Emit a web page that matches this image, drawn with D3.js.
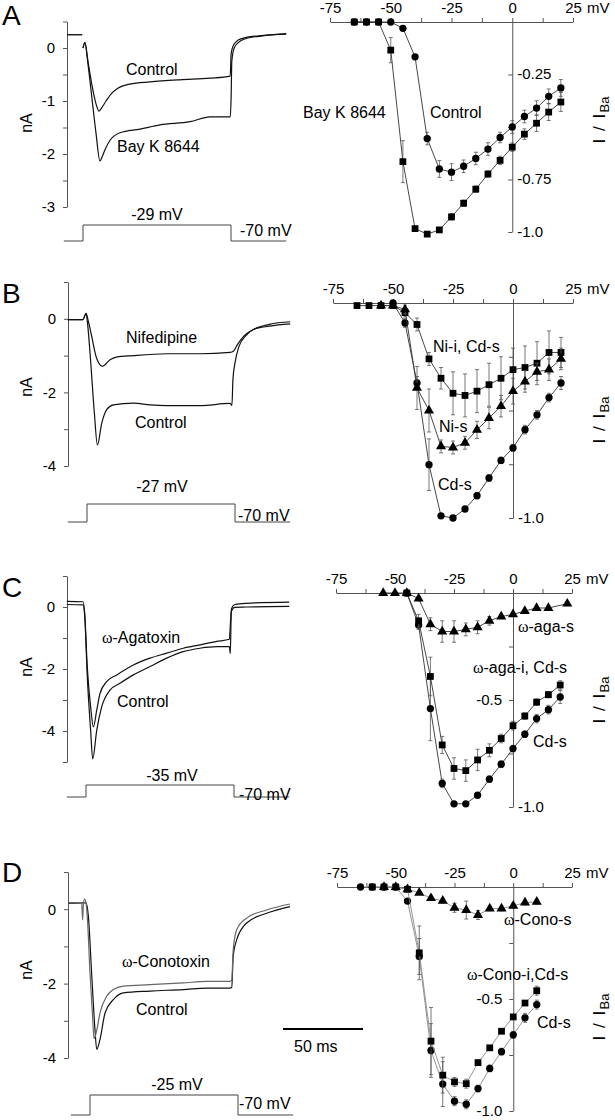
<!DOCTYPE html>
<html><head><meta charset="utf-8">
<script src="https://cdn.jsdelivr.net/npm/d3@7"></script>
<style>body{margin:0;background:#fff} svg{display:block}</style>
</head><body><svg id="c" width="615" height="1120"></svg>
<script>
// ================= DATA =================
const panelLetters = ["A", "B", "C", "D"];
const stepVoltages = [-29, -27, -35, -25];
const holdingVoltage = -70;
const stepDuration = 92.5; // ms
const protocolTimes = [-12, 0, 92.5, 127];
const scaleBarMs = 50;

// current traces [time ms, nA]; null = blanked
const traceA_control = [[-10,0.25],[-0.5,0.25],[-0.4,null],[0,0],[1.2,0.1],[3.1,-0.25],[5.6,-0.7],[8.1,-1.05],[10,-1.19],[11.9,-1.12],[14.4,-1.0],[17.5,-0.87],[21.3,-0.77],[29.4,-0.68],[41.9,-0.64],[60.6,-0.6],[79.4,-0.57],[92,-0.53],[92.6,-0.1],[94,0.05],[97,0.15],[102,0.2],[110,0.23],[127,0.26]];
const traceA_bayk = [[-10,0.25],[-0.5,0.25],[-0.4,null],[0,0],[1.2,0.1],[3.1,-0.3],[5.6,-0.95],[8.1,-1.6],[10.6,-2.13],[12,-2.05],[13.75,-1.92],[16.9,-1.74],[23.1,-1.6],[35.6,-1.53],[48.1,-1.45],[66.9,-1.39],[79.4,-1.3],[92,-1.3],[92.6,-0.9],[93,-0.25],[94.5,0.0],[97,0.1],[102,0.18],[110,0.22],[127,0.27]];
const traceB_nifedipine = [[-12,-0.02],[-2.5,-0.02],[-0.6,0.15],[1,-0.1],[2.9,-0.47],[6,-1.07],[9.8,-1.29],[14.4,-1.11],[18.5,-1.04],[28.9,-1.0],[49.8,-0.95],[70.6,-0.95],[89.4,-0.91],[91.5,-0.88],[94,-0.7],[98,-0.47],[104,-0.29],[114,-0.15],[127,-0.08]];
const traceB_control = [[-12,-0.02],[-2.5,-0.02],[-0.6,0.15],[0.5,-0.2],[1.9,-0.93],[4.6,-2.56],[6.5,-3.43],[9.2,-2.84],[12.3,-2.47],[16.5,-2.34],[28.9,-2.29],[39.4,-2.34],[49.8,-2.36],[70.6,-2.36],[89.4,-2.3],[90.6,-2.35],[91.2,-1.65],[92.5,-1.2],[95,-0.75],[99,-0.47],[104,-0.29],[114,-0.2],[127,-0.14]];
const traceC_agatoxin = [[-12,0.18],[-1.8,0.17],[-0.8,-0.2],[0.8,-1.94],[2.9,-3.22],[4.6,-3.87],[6.7,-3.33],[8.75,-2.79],[12.9,-2.41],[19.2,-2.19],[29.6,-1.87],[40,-1.65],[50.4,-1.49],[60.8,-1.33],[71.25,-1.22],[81.7,-1.11],[89.6,-1.04],[90.3,-0.5],[91,-0.05],[93,0.08],[100,0.12],[127,0.16]];
const traceC_control = [[-12,0.08],[-1.8,0.07],[-0.8,-0.3],[0.8,-2.25],[2.9,-3.98],[4.2,-4.9],[6.7,-3.98],[9.8,-3.22],[15,-2.68],[21.25,-2.46],[29.6,-2.19],[40,-1.92],[50.4,-1.65],[60.8,-1.44],[71.25,-1.33],[81.7,-1.28],[89.6,-1.28],[90.2,-1.5],[90.8,-0.15],[93,-0.01],[100,0.0],[127,0.02]];
const traceD_conotoxin = [[-13.5,0.18],[-5.2,0.18],[-4.6,-0.29],[-4.2,0.1],[-3.5,0.27],[-2.5,0.18],[-1.7,-0.2],[0,-1.71],[1.7,-2.95],[2.5,-3.48],[4,-3.3],[6.25,-2.79],[10.4,-2.34],[14.6,-2.16],[20.8,-2.07],[37.5,-2.03],[58.3,-1.98],[72.9,-1.94],[87.5,-1.94],[88.6,-1.9],[89.5,-1.09],[91.7,-0.55],[97.9,-0.24],[110.4,-0.02],[125,0.14]];
const traceD_control = [[-13.5,0.16],[-2.5,0.17],[-1,-0.2],[1.0,-1.71],[3.1,-3.23],[4.2,-3.77],[6.25,-3.5],[9.4,-2.79],[14.6,-2.43],[20.8,-2.25],[37.5,-2.2],[58.3,-2.16],[72.9,-2.12],[87.5,-2.12],[88.6,-2.1],[89.5,-1.27],[91.7,-0.82],[97.9,-0.37],[110.4,-0.11],[125,0.07]];

// I-V data [mV, I/IBa, error]
const ivA_control = [[-65,0,0],[-60,0,0],[-55,0,0],[-50,0,0],[-45,-0.03,0.01],[-40,-0.166,0.01],[-35,-0.555,0.03],[-30,-0.70,0.04],[-25,-0.715,0.04],[-20,-0.687,0.03],[-15,-0.65,0.03],[-10,-0.605,0.03],[-5,-0.55,0.025],[0,-0.50,0.03],[5,-0.45,0.03],[10,-0.41,0.035],[15,-0.354,0.035],[20,-0.314,0.04]];
const ivA_bayk = [[-65,0,0],[-60,0,0],[-55,0,0],[-50,-0.134,0.06],[-45,-0.665,0.1],[-40,-0.984,0.01],[-35,-1.01,0.01],[-30,-0.99,0.01],[-25,-0.928,0.015],[-20,-0.863,0.015],[-15,-0.796,0.015],[-10,-0.724,0.015],[-5,-0.659,0.02],[0,-0.596,0.02],[5,-0.534,0.025],[10,-0.482,0.04],[15,-0.429,0.04],[20,-0.381,0.045]];
const ivB_cds = [[-50,0,0],[-45,-0.093,0.02],[-40,-0.372,0.03],[-35,-0.752,0.12],[-30,-0.99,0.01],[-25,-1.0,0.01],[-20,-0.958,0.01],[-15,-0.896,0.015],[-10,-0.814,0.015],[-5,-0.732,0.015],[0,-0.674,0.015],[5,-0.589,0.02],[10,-0.52,0.02],[15,-0.44,0.02],[20,-0.372,0.03]];
const ivB_nii = [[-65,-0.012,0],[-60,-0.012,0],[-55,-0.012,0],[-50,-0.012,0],[-45,-0.045,0.02],[-40,-0.10,0.03],[-35,-0.26,0.03],[-30,-0.35,0.05],[-25,-0.42,0.1],[-20,-0.43,0.1],[-15,-0.41,0.1],[-10,-0.38,0.1],[-5,-0.35,0.1],[0,-0.31,0.1],[5,-0.30,0.1],[10,-0.28,0.1],[15,-0.23,0.1],[20,-0.23,0.07]];
const ivB_nis = [[-55,-0.012,0],[-50,-0.012,0],[-45,-0.03,0.02],[-40,-0.395,0.1],[-35,-0.50,0.1],[-30,-0.667,0.03],[-25,-0.672,0.03],[-20,-0.65,0.03],[-15,-0.59,0.04],[-10,-0.535,0.05],[-5,-0.48,0.05],[0,-0.41,0.06],[5,-0.365,0.05],[10,-0.32,0.04],[15,-0.31,0.05],[20,-0.26,0.05]];
const ivC_cds = [[-45,0,0],[-40,-0.15,0.02],[-35,-0.54,0.15],[-30,-0.89,0.02],[-25,-0.985,0.01],[-20,-0.985,0.01],[-15,-0.945,0.01],[-10,-0.87,0.015],[-5,-0.80,0.015],[0,-0.727,0.015],[5,-0.66,0.015],[10,-0.587,0.02],[15,-0.545,0.02],[20,-0.486,0.03]];
const ivC_agai = [[-45,0,0],[-40,-0.13,0.03],[-35,-0.39,0.09],[-30,-0.71,0.04],[-25,-0.82,0.05],[-20,-0.83,0.05],[-15,-0.78,0.05],[-10,-0.735,0.03],[-5,-0.68,0.02],[0,-0.62,0.02],[5,-0.575,0.015],[10,-0.51,0.015],[15,-0.475,0.015],[20,-0.43,0.02]];
const ivC_agas = [[-55,0,0],[-50,0,0],[-45,0,0],[-40,-0.026,0.01],[-35,-0.146,0.03],[-30,-0.18,0.05],[-25,-0.18,0.05],[-20,-0.17,0.03],[-15,-0.16,0.03],[-10,-0.13,0.02],[-5,-0.11,0.01],[0,-0.10,0.01],[5,-0.084,0],[10,-0.07,0],[15,-0.07,0],[23,-0.05,0]];
const ivD_cds = [[-65,0,0],[-60,0,0],[-55,0,0],[-50,0,0],[-45,-0.063,0.01],[-40,-0.31,0.08],[-35,-0.73,0.12],[-30,-0.88,0.1],[-25,-0.956,0.02],[-20,-0.97,0.02],[-15,-0.90,0.015],[-10,-0.81,0.015],[-5,-0.735,0.015],[0,-0.66,0.015],[5,-0.584,0.02],[10,-0.525,0.02]];
const ivD_conoi = [[-60,0,0],[-55,0,0],[-50,0,0],[-45,-0.01,0],[-40,-0.294,0.12],[-35,-0.688,0.15],[-30,-0.84,0.08],[-25,-0.87,0.02],[-20,-0.878,0.02],[-15,-0.784,0.01],[-10,-0.718,0.01],[-5,-0.644,0.01],[0,-0.58,0.01],[5,-0.518,0.01],[10,-0.463,0.02]];
const ivD_conos = [[-55,0,0],[-50,0,0],[-45,-0.01,0],[-40,-0.026,0.005],[-35,-0.05,0.01],[-30,-0.062,0.01],[-25,-0.093,0.02],[-20,-0.103,0.04],[-15,-0.125,0.02],[-10,-0.096,0.01],[-5,-0.096,0.01],[0,-0.084,0.01],[5,-0.07,0.01],[10,-0.066,0.01]];

const mvTicks = [-75, -62.5, -50, -37.5, -25, -12.5, 0, 12.5, 25];
const mvTickLabels = [-75, -50, -25, 0, 25];
const ivTicks = [-0.25, -0.5, -0.75, -1];

// ================= LAYOUT / RENDER =================
const SANS = '"Liberation Sans", Arial, Helvetica, sans-serif';
const SERIF = '"Liberation Serif", "Times New Roman", serif';
const svg = d3.select("#c");

function label(g, x, y, str, size = 16, anchor = "start") {
  const t = g.append("text").attr("x", x).attr("y", y).attr("font-size", size)
    .attr("text-anchor", anchor).attr("font-family", SANS).attr("fill", "#000");
  str.split("ω").forEach((p, i) => {
    if (i > 0) t.append("tspan").attr("font-family", SERIF).text("ω");
    if (p) t.append("tspan").text(p);
  });
  return t;
}

const leftPanels = [
  { letterY: 25, axisX: 67, domain: [-3, 0.5], yRange: [207, 21.5], tickVals: d3.range(-3, 0.51, 0.5), labelVals: [0,-1,-2,-3], x0: 83, nAy: 123,
    vBase: 241, vHigh: 225, vLabel: [157, 220], hold: [240, 236],
    traces: [{d: traceA_control, c: "#111"}, {d: traceA_bayk, c: "#111"}],
    texts: [["Control", 126, 75], ["Bay K 8644", 117, 152]] },
  { letterY: 303, axisX: 68, domain: [-4, 1], yRange: [466, 282], tickVals: [-4,-3,-2,-1,0,1], labelVals: [0,-2,-4], x0: 87, nAy: 387,
    vBase: 522, vHigh: 504, vLabel: [162, 492], hold: [238, 521],
    traces: [{d: traceB_nifedipine, c: "#111"}, {d: traceB_control, c: "#111"}],
    texts: [["Nifedipine", 126, 343], ["Control", 135, 428]] },
  { letterY: 597, axisX: 67, domain: [-5, 1], yRange: [762, 576], tickVals: [-5,-4,-3,-2,-1,0,1], labelVals: [0,-2,-4], x0: 86, nAy: 667,
    vBase: 797, vHigh: 785, vLabel: [172, 781], hold: [239, 800],
    traces: [{d: traceC_control, c: "#111"}, {d: traceC_agatoxin, c: "#111"}],
    texts: [["ω-Agatoxin", 102, 643], ["Control", 117, 707]] },
  { letterY: 882, axisX: 68, domain: [-4, 1], yRange: [1058, 872], tickVals: [-4,-3,-2,-1,0,1], labelVals: [0,-2,-4], x0: 90, nAy: 970,
    vBase: 1115, vHigh: 1095, vLabel: [177, 1090], hold: [239, 1109],
    traces: [{d: traceD_control, c: "#111"}, {d: traceD_conotoxin, c: "#666"}],
    texts: [["ω-Conotoxin", 122, 967], ["Control", 136, 1015]] }
];

leftPanels.forEach((p, i) => {
  const g = svg.append("g");
  const y = d3.scaleLinear().domain(p.domain).range(p.yRange);
  const x = d3.scaleLinear().domain([0, stepDuration]).range([p.x0, p.x0 + 148]);
  label(g, 2, p.letterY, panelLetters[i], 28);
  const axg = g.append("g").attr("transform", `translate(${p.axisX},0)`)
    .call(d3.axisLeft(y).tickValues(p.tickVals).tickSize(4).tickSizeOuter(0).tickPadding(8)
      .tickFormat(d => p.labelVals.includes(Math.round(d * 100) / 100) ? String(d) : ""));
  axg.attr("font-family", SANS).attr("font-size", 15);
  axg.select(".domain").attr("stroke", "#555");
  axg.selectAll(".tick line").attr("stroke", "#555");
  axg.selectAll("text").attr("fill", "#000");
  g.append("text").attr("transform", `translate(32,${p.nAy}) rotate(-90)`).attr("text-anchor", "middle")
    .attr("font-family", SANS).attr("font-size", 16).text("nA");
  const line = d3.line().defined(d => d[1] !== null).x(d => x(d[0])).y(d => y(d[1])).curve(d3.curveMonotoneX);
  p.traces.forEach(t => g.append("path").datum(t.d).attr("d", line).attr("fill", "none")
    .attr("stroke", t.c).attr("stroke-width", 1.2).attr("stroke-linejoin", "round"));
  p.texts.forEach(t => label(g, t[1], t[2], t[0], 16));
  // voltage protocol
  const yv = d3.scaleLinear().domain([holdingVoltage, stepVoltages[i]]).range([p.vBase, p.vHigh]);
  const prot = [[protocolTimes[0], holdingVoltage], [protocolTimes[1], stepVoltages[i]], [protocolTimes[2], holdingVoltage], [protocolTimes[3], holdingVoltage]];
  g.append("path").datum(prot).attr("d", d3.line().x(d => x(d[0])).y(d => yv(d[1])).curve(d3.curveStepAfter))
    .attr("fill", "none").attr("stroke", "#444").attr("stroke-width", 1);
  label(g, p.vLabel[0], p.vLabel[1], `${stepVoltages[i]} mV`, 16, "middle");
  label(g, p.hold[0], p.hold[1], `${holdingVoltage} mV`, 16);
  if (i === 3) {
    g.append("line").attr("x1", 283).attr("x2", 283 + x(scaleBarMs) - x(0)).attr("y1", 1029).attr("y2", 1029)
      .attr("stroke", "#000").attr("stroke-width", 2);
    label(g, 294, 1052, `${scaleBarMs} ms`, 16);
  }
});

const sq = d3.symbolSquare, ci = d3.symbolCircle, tr = d3.symbolTriangle;
const rightPanels = [
  { xRange: [330, 573], yRange: [22, 232], lineColor: "#333",
    series: [{d: ivA_control, s: ci}, {d: ivA_bayk, s: sq}],
    yLabels: [[-0.25, "-0.25", "r"], [-0.75, "-0.75", "r"], [-1, "-1.0", "r"]], iy: 120,
    texts: [["Bay K 8644", 303, 118], ["Control", 430, 118]] },
  { xRange: [333, 573], yRange: [303, 518], lineColor: "#333",
    series: [{d: ivB_cds, s: ci}, {d: ivB_nii, s: sq}, {d: ivB_nis, s: tr}],
    yLabels: [[-1, "-1.0", "r"]], iy: 420,
    texts: [["Ni-i, Cd-s", 433, 352], ["Ni-s", 439, 432], ["Cd-s", 438, 490]] },
  { xRange: [336, 572], yRange: [593, 807], lineColor: "#333",
    series: [{d: ivC_cds, s: ci}, {d: ivC_agai, s: sq}, {d: ivC_agas, s: tr}],
    yLabels: [[-0.5, "-0.5", "l"], [-1, "-1.0", "r"]], iy: 700,
    texts: [["ω-aga-s", 518, 632], ["ω-aga-i, Cd-s", 473, 673], ["Cd-s", 533, 747]] },
  { xRange: [337, 572], yRange: [887, 1111], lineColor: "#888",
    series: [{d: ivD_cds, s: ci}, {d: ivD_conoi, s: sq}, {d: ivD_conos, s: tr}],
    yLabels: [[-0.5, "-0.5", "l"], [-1, "-1.0", "l"]], iy: 1017,
    texts: [["ω-Cono-s", 504, 925], ["ω-Cono-i,Cd-s", 467, 980], ["Cd-s", 537, 1028]] }
];
const symSize = new Map([[ci, 42], [sq, 46], [tr, 44]]);

rightPanels.forEach(p => {
  const g = svg.append("g");
  const x = d3.scaleLinear().domain([-75, 25]).range(p.xRange);
  const y = d3.scaleLinear().domain([0, -1]).range(p.yRange);
  const top = g.append("g").attr("transform", `translate(0,${y(0)})`)
    .call(d3.axisTop(x).tickValues(mvTicks).tickSize(4).tickSizeOuter(0).tickPadding(5)
      .tickFormat(d => mvTickLabels.includes(d) ? String(d) : ""));
  top.attr("font-family", SANS).attr("font-size", 15);
  top.select(".domain").attr("stroke", "#555");
  top.selectAll(".tick line").attr("stroke", "#555");
  top.selectAll("text").attr("fill", "#000");
  label(g, x(25) + 14, y(0) - 9, "mV", 15);
  const yax = g.append("g").attr("transform", `translate(${x(0)},0)`)
    .call(d3.axisLeft(y).tickValues(ivTicks).tickSize(4).tickSizeOuter(0).tickFormat(""));
  yax.select(".domain").attr("stroke", "#555");
  yax.selectAll(".tick line").attr("stroke", "#555");
  p.yLabels.forEach(l => {
    const t = label(g, l[2] === "r" ? x(0) + 5 : x(0) - 11, y(l[0]), l[1], 15, l[2] === "r" ? "start" : "end");
    t.attr("dy", "0.33em");
  });
  const it = g.append("text").attr("transform", `translate(605,${p.iy}) rotate(-90)`).attr("text-anchor", "middle")
    .attr("font-family", SANS).attr("font-size", 17).attr("letter-spacing", 1.5);
  it.append("tspan").text("I / I");
  it.append("tspan").attr("dy", 4).attr("font-size", 13).attr("letter-spacing", 0).text("Ba");

  const line = d3.line().x(d => x(d[0])).y(d => y(d[1]));
  p.series.forEach(s => {
    g.append("path").datum(s.d).attr("d", line).attr("fill", "none").attr("stroke", p.lineColor).attr("stroke-width", 0.9);
    const eb = g.append("g").attr("stroke", "#555").attr("stroke-width", 0.8);
    s.d.filter(d => d[2] > 0).forEach(d => {
      const cx = x(d[0]), y1 = y(d[1] - d[2]), y2 = y(d[1] + d[2]);
      eb.append("line").attr("x1", cx).attr("x2", cx).attr("y1", y1).attr("y2", y2);
      eb.append("line").attr("x1", cx - 2).attr("x2", cx + 2).attr("y1", y1).attr("y2", y1);
      eb.append("line").attr("x1", cx - 2).attr("x2", cx + 2).attr("y1", y2).attr("y2", y2);
    });
    g.append("g").selectAll("path").data(s.d).join("path")
      .attr("transform", d => `translate(${x(d[0])},${y(d[1])})`)
      .attr("d", d3.symbol().type(s.s).size(symSize.get(s.s))).attr("fill", "#000");
  });
  p.texts.forEach(t => label(g, t[1], t[2], t[0], 16));
});
</script>
</body></html>
